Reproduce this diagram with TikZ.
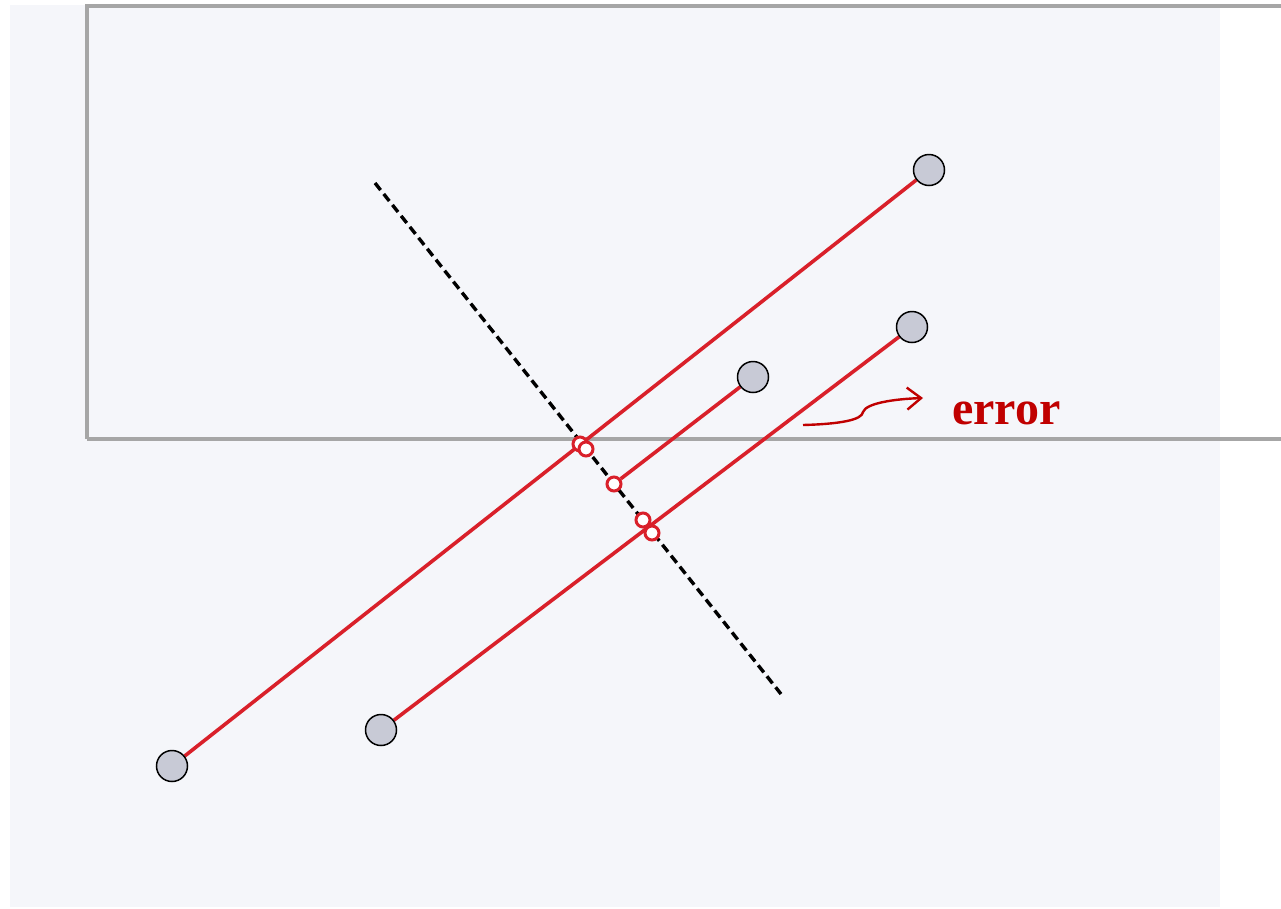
\documentclass[tikz,border=0pt]{standalone}
\usepackage{fontspec}
\setmainfont{Liberation Serif}
\usetikzlibrary{arrows.meta,backgrounds}
\definecolor{bgc}{HTML}{F5F6FA}
\definecolor{framec}{HTML}{A6A6A6}
\definecolor{linec}{HTML}{D9202A}
\definecolor{errc}{HTML}{C00000}
\definecolor{ptc}{HTML}{C8CAD6}
\tikzset{
  bigpt/.style={circle,draw=black,line width=1.5pt,fill=ptc,minimum size=31pt,inner sep=0pt},
  hitpt/.style={circle,draw=linec,line width=3pt,fill=white,minimum size=14pt,inner sep=0pt},
  seg/.style={draw=linec,line width=3.6pt},
  axis/.style={draw=black,line width=3.4pt,dash pattern=on 9pt off 5pt},
}
\begin{document}
\begin{tikzpicture}[x=1pt,y=-1pt]
\useasboundingbox (0,0) rectangle (1281,908);
\clip (0,0) rectangle (1281,908);
% points
\node[bigpt] (A1) at (172,766) {};
\node[bigpt] (A2) at (929,170) {};
\node[bigpt] (B1) at (381,730) {};
\node[bigpt] (B2) at (912,327) {};
\node[bigpt] (C2) at (753,377) {};
\node[hitpt] (H1) at (580,444) {};
\node[hitpt] (H2) at (586,449) {};
\node[hitpt] (C1) at (614,484) {};
\node[hitpt] (H3) at (643,520) {};
\node[hitpt] (H4) at (652,533) {};
\coordinate (D1) at (375,183);
\coordinate (D2) at (781,694);
\node[text=errc,font=\bfseries\fontsize{48}{56}\selectfont,anchor=base west,inner sep=0pt] (err) at (952,424) {error};
\coordinate (E0) at (803,425);
\coordinate (E1) at (863,412);
\coordinate (E2) at (923,398);
\begin{scope}[on background layer]
\fill[bgc] (10,5) rectangle (1220,907);
\draw[framec,line width=3.4pt] (87,439) -- (87,6) -- (1300,6);
\draw[framec,line width=3.4pt] (87,439) -- (1300,439);
\draw[seg] (A1) -- (A2);
\draw[seg] (B1) -- (B2);
\draw[seg] (C1) -- (C2);
\draw[axis] (D1) -- (D2);
\draw[errc,line width=2.4pt,-{Straight Barb[length=14pt,width=22pt,line width=2.4pt]}]
  (E0) .. controls (840,424) and (862,420) .. (E1)
  .. controls (866,403) and (895,399) .. (E2);
\end{scope}
\end{tikzpicture}
\end{document}
